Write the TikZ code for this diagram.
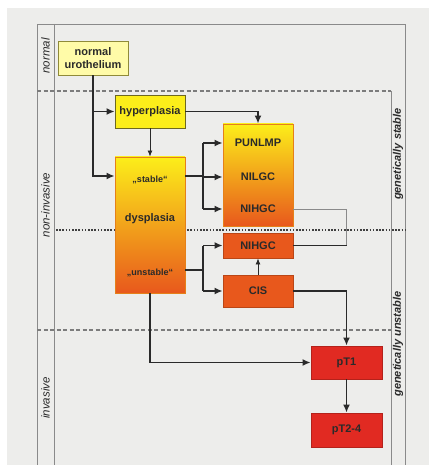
\documentclass[tikz,border=0pt]{standalone}
\usepackage{fontspec}
\setsansfont{Liberation Sans}
\usetikzlibrary{arrows.meta}
\definecolor{bg}{HTML}{EDEDEB}
\definecolor{lyel}{HTML}{FFFBA8}
\definecolor{yel}{HTML}{FCEE1A}
\definecolor{org}{HTML}{E8581C}
\definecolor{redb}{HTML}{E12A22}
\definecolor{ink}{HTML}{2A2A2A}
\definecolor{frame}{HTML}{8A8A8A}
\tikzset{
  box/.style={draw=#1, line width=0.9pt, inner sep=0pt, align=center,
    font=\sffamily\bfseries\fontsize{11}{12.5}\selectfont, text=ink},
  lbl/.style={font=\sffamily\bfseries\fontsize{11}{12}\selectfont, text=ink},
  conn/.style={draw=ink, line width=1.5pt},
  arr/.style={conn, -{Latex[length=8pt,width=7pt]}},
  thinarr/.style={draw=ink, line width=0.8pt, -{Latex[length=6pt,width=5pt]}},
  grayln/.style={draw=frame, line width=0.7pt},
  side/.style={rotate=90, font=\sffamily\itshape\fontsize{11.5}{12}\selectfont, text=ink},
  sideb/.style={rotate=90, font=\sffamily\bfseries\itshape\fontsize{11}{12}\selectfont, text=ink},
  framel/.style={draw=frame, line width=0.9pt}
}
\begin{document}
\begin{tikzpicture}[x=1pt,y=-1pt]
\useasboundingbox (0,0) rectangle (429,465);
\fill[white] (0,0) rectangle (429,465);
\fill[bg] (7,8) rectangle (429,465);
% frame
\draw[framel] (37,465) -- (37,24) -- (405,24) -- (405,465);
\draw[framel] (54,24) -- (54,465);
\draw[framel] (391,91) -- (391,465);
\draw[draw=frame!90!black, line width=1.3pt, dash pattern=on 4pt off 2.5pt] (37,91) -- (391,91);
\draw[draw=frame!90!black, line width=1.3pt, dash pattern=on 4pt off 2.5pt] (37,330) -- (391,330);
\draw[draw=ink!90, line width=2pt, dash pattern=on 1.6pt off 1.6pt] (56,230) -- (405,230);
% side labels
\node[side] (lnorm) at (45.5,56) {normal};
\node[side] (lnon) at (45.5,205) {non-invasive};
\node[side] (linv) at (45.5,398) {invasive};
\node[sideb] (lstab) at (398,154) {genetically stable};
\node[sideb] (lunst) at (398,344) {genetically unstable};
% nodes
\node[box=olive!60!gray, fill=lyel, minimum width=70pt, minimum height=34pt] (norm) at (93,58) {normal\\urothelium};
\node[box=olive!70!black, fill=yel, minimum width=70pt, minimum height=33pt] (hyp) at (150,111.5) {hyperplasia};
\node[box=orange!60!brown, top color=yel, middle color=orange!80!yellow, bottom color=org, minimum width=70pt, minimum height=136pt] (dys) at (150,225) {};
\node[lbl, font=\sffamily\bfseries\fontsize{9}{10}\selectfont] (stab) at (150,180) {„stable“};
\node[lbl] (dtxt) at (150,219) {dysplasia};
\node[lbl, font=\sffamily\bfseries\fontsize{9}{10}\selectfont] (unst) at (150,273) {„unstable“};
\node[box=orange!60!brown, top color=yel, middle color=yel, bottom color=org, minimum width=70pt, minimum height=102pt] (pun) at (258,175) {};
\node[lbl] (t1) at (258,143) {PUNLMP};
\node[lbl] (t2) at (258,177) {NILGC};
\node[lbl] (t3) at (258,209) {NIHGC};
\node[box=org!80!black, fill=org, minimum width=70pt, minimum height=25pt] (nih2) at (258,245.5) {NIHGC};
\node[box=org!80!black, fill=org, minimum width=70pt, minimum height=32pt] (cis) at (258,291) {CIS};
\node[box=redb!80!black, fill=redb, minimum width=71pt, minimum height=33pt] (pt1) at (346.5,362.5) {pT1};
\node[box=redb!80!black, fill=redb, minimum width=71pt, minimum height=34pt] (pt2) at (346.5,430) {pT2-4};
% helper coordinates
\coordinate (ys) at (0,176);
\coordinate (yu) at (0,270);
\coordinate (jx) at (203,0);
% connectors
\draw[arr] (norm.south) |- (dys.west |- ys);
\draw[arr] (norm.south |- hyp.west) -- (hyp.west);
\draw[thinarr] (hyp.south) -- (dys.north);
\draw[arr] (hyp.east) -| (pun.north);
\draw[conn] (dys.east |- ys) -- (jx |- ys);
\draw[conn] (jx |- t1) -- (jx |- t3);
\draw[arr] (jx |- t1) -- (pun.west |- t1);
\draw[arr] (jx |- t2) -- (pun.west |- t2);
\draw[arr] (jx |- t3) -- (pun.west |- t3);
\draw[conn] (dys.east |- yu) -- (jx |- yu);
\draw[conn] (jx |- nih2) -- (jx |- cis);
\draw[arr] (jx |- nih2) -- (nih2.west);
\draw[arr] (jx |- cis) -- (cis.west);
\draw[thinarr] (cis.north) -- (nih2.south);
\draw[grayln] (pun.east |- t3) -| (pt1.north |- nih2.east);
\draw[conn, line width=1pt] (nih2.east) -- (pt1.north |- nih2.east);
\draw[arr] (cis.east) -| (pt1.north);
\draw[arr] (dys.south) |- (pt1.west);
\draw[arr] (pt1.south) -- (pt2.north);
\end{tikzpicture}
\end{document}
